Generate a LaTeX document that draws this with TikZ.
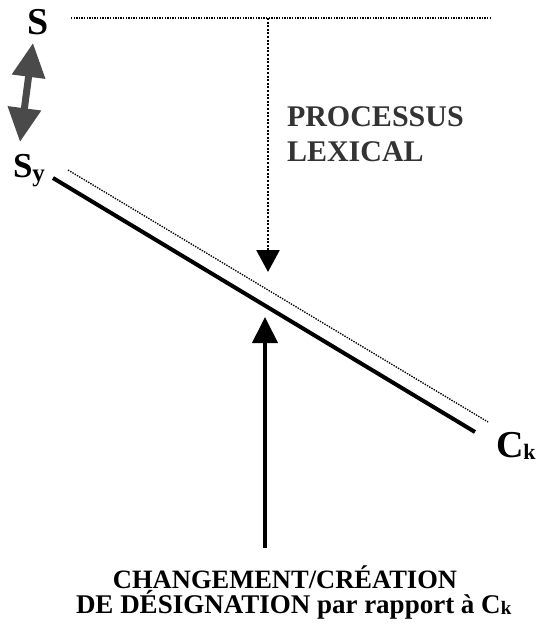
\documentclass[tikz,border=0pt]{standalone}
\usepackage{fontspec}
\setmainfont{Liberation Serif}
\usetikzlibrary{arrows.meta}
\definecolor{darkgray}{HTML}{333333}
\definecolor{arrowgray}{HTML}{4A4A4A}
\tikzset{
  lbl/.style={inner sep=0pt, outer sep=0pt, font=\bfseries},
  symb/.style={lbl, font=\bfseries\fontsize{38}{38}\selectfont},
  proc/.style={lbl, text=darkgray, font=\bfseries\fontsize{30}{30}\selectfont},
  bottomtext/.style={lbl, font=\bfseries\fontsize{26.5}{26.5}\selectfont},
  dotline/.style={line width=1.4pt, dash pattern=on 1.4pt off 1.2pt},
  mainline/.style={line width=4pt},
}
\newcommand{\mysub}[1]{\raisebox{-2pt}{\fontsize{22}{22}\selectfont #1}}
\begin{document}
\begin{tikzpicture}[x=1pt,y=-1pt]
\useasboundingbox (0,0) rectangle (535,628);
% symbols
\node[symb, anchor=base] (S) at (38.5,35) {S};
\node[symb, anchor=base west, font=\bfseries\fontsize{35}{35}\selectfont] (Sy) at (13,178) {S\raisebox{-4pt}{\fontsize{25}{25}\selectfont y}};
\node[symb, anchor=base west] (Ck) at (496,457) {C\mysub{k}};
% texts
\node[proc, anchor=base west] (proc1) at (287,127) {PROCESSUS};
\node[proc, anchor=base west] (proc2) at (287,162) {LEXICAL};
\node[bottomtext, anchor=base] (b1) at (285,588) {CHANGEMENT/CRÉATION};
\node[bottomtext, anchor=base west, font=\bfseries\fontsize{27}{27}\selectfont] (b2) at (76,613) {DE DÉSIGNATION par rapport à C\raisebox{-1pt}{\fontsize{19}{19}\selectfont k}};
% coordinates
\coordinate (T1) at (71,18);
\coordinate (T2) at (490,18);
\coordinate (V1) at (268,18);
\coordinate (V2) at (268,272);
\coordinate (L1) at (53,178);
\coordinate (L2) at (475,432);
\coordinate (D1) at (68,170);
\coordinate (D2) at (488,422);
\coordinate (U1) at (265,548);
\coordinate (U2) at (265,317);
\coordinate (G1) at (33,43);
\coordinate (G2) at (20,142);
% lines
\draw[dotline] (T1) -- (T2);
\draw[line width=2.6pt, dash pattern=on 2pt off 1.6pt, -{Triangle[length=22pt,width=23pt]}] (V1) -- (V2);
\draw[mainline] (L1) -- (L2);
\draw[dotline, line width=1.3pt] (D1) -- (D2);
\draw[line width=4pt, -{Triangle[length=26pt,width=25pt]}] (U1) -- (U2);
\draw[arrowgray, line width=7pt, {Triangle[length=34pt,width=32pt]}-{Triangle[length=34pt,width=32pt]}] (G1) -- (G2);
\end{tikzpicture}
\end{document}
